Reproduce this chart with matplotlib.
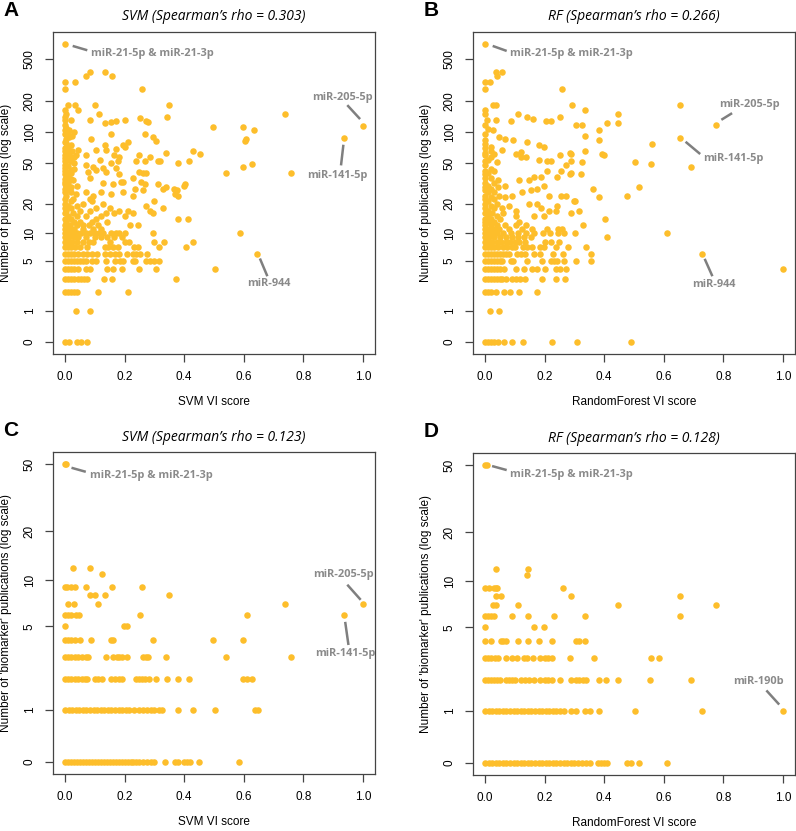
#!/usr/bin/env python
import numpy as np
import matplotlib
matplotlib.use("Agg")
from matplotlib import pyplot as plt

plt.rcParams['font.family'] = ['Liberation Sans', 'DejaVu Sans']

# (number of publications, VI scores of the miRNAs with that count)
svm_all = [
    (0, [0.0, 0.015, 0.04, 0.055, 0.075]),
    (1, [0.036, 0.083]),
    (2, [0.0, 0.01, 0.02, 0.03, 0.042, 0.111, 0.211]),
    (3, [0.0, 0.01, 0.02, 0.03, 0.045, 0.055, 0.065, 0.075, 0.131, 0.159, 0.374]),
    (4, [0.0, 0.01, 0.02, 0.032, 0.044, 0.072, 0.085, 0.14, 0.16, 0.19, 0.248, 0.304, 0.503]),
    (5, [0.0, 0.01, 0.02, 0.03, 0.04, 0.05, 0.06, 0.07, 0.09, 0.105, 0.137, 0.168, 0.185,
         0.196, 0.229, 0.235, 0.271, 0.285, 0.299, 0.317]),
    (6, [0.0, 0.01, 0.02, 0.03, 0.045, 0.06, 0.075, 0.09, 0.106, 0.134, 0.15, 0.168, 0.183,
         0.207, 0.229, 0.24, 0.252, 0.274, 0.643]),
    (7, [0.0, 0.01, 0.02, 0.035, 0.05, 0.073, 0.134, 0.145, 0.16, 0.179, 0.233, 0.246, 0.316, 0.406]),
    (8, [0.0, 0.012, 0.025, 0.04, 0.06, 0.08, 0.095, 0.15, 0.2, 0.215, 0.3, 0.332, 0.428]),
    (9, [0.0, 0.015, 0.03, 0.045, 0.07, 0.1, 0.12, 0.14, 0.165, 0.19]),
    (10, [0.0, 0.01, 0.025, 0.04, 0.055, 0.07, 0.085, 0.1, 0.115, 0.128, 0.155, 0.17, 0.183,
          0.2, 0.296, 0.587]),
    (11, [0.0, 0.015, 0.03, 0.06, 0.094, 0.12]),
    (12, [0.0, 0.016, 0.04, 0.06, 0.08, 0.11, 0.217, 0.245]),
    (13, [0.005, 0.03, 0.05, 0.09, 0.14]),
    (14, [0.0, 0.02, 0.105, 0.379, 0.413]),
    (15, [0.01, 0.04, 0.072, 0.12, 0.2]),
    (16, [0.0, 0.027, 0.138, 0.166, 0.228, 0.296]),
    (17, [0.005, 0.05, 0.083, 0.183, 0.211, 0.284]),
    (18, [0.0, 0.02, 0.105, 0.15, 0.329]),
    (19, [0.01, 0.04, 0.273]),
    (20, [0.0, 0.06, 0.128]),
    (21, [0.02, 0.09, 0.3]),
    (22, [0.0, 0.027, 0.083]),
    (24, [0.005, 0.094, 0.228, 0.379]),
    (25, [0.038, 0.155, 0.368]),
    (26, [0.0, 0.02, 0.072, 0.122, 0.195]),
    (27, [0.01, 0.262, 0.375]),
    (28, [0.0, 0.234, 0.33, 0.365]),
    (29, [0.02, 0.34]),
    (30, [0.005, 0.04, 0.398]),
    (31, [0.0, 0.161, 0.267, 0.312, 0.404]),
    (32, [0.01, 0.128]),
    (33, [0.0, 0.189, 0.195, 0.256]),
    (34, [0.015, 0.027]),
    (35, [0.0, 0.02]),
    (36, [0.005, 0.083, 0.228]),
    (38, [0.01]),
    (39, [0.0, 0.183]),
    (40, [0.02, 0.262, 0.273, 0.539, 0.758]),
    (41, [0.005, 0.077, 0.138, 0.25]),
    (42, [0.0]),
    (43, [0.02, 0.105]),
    (44, [0.03]),
    (45, [0.0, 0.128, 0.172]),
    (46, [0.094, 0.598]),
    (47, [0.01]),
    (48, [0.0, 0.072]),
    (49, [0.626]),
    (50, [0.03, 0.155, 0.378]),
    (52, [0.0, 0.178, 0.239, 0.267, 0.312, 0.318, 0.416]),
    (53, [0.02]),
    (54, [0.01, 0.116]),
    (56, [0.0]),
    (57, [0.02, 0.183, 0.284]),
    (58, [0.03]),
    (60, [0.0, 0.036, 0.072, 0.166, 0.25]),
    (62, [0.005, 0.453]),
    (63, [0.015, 0.338]),
    (65, [0.0, 0.025]),
    (66, [0.43]),
    (67, [0.01, 0.044, 0.105, 0.138]),
    (69, [0.172]),
    (70, [0.0]),
    (72, [0.01, 0.2]),
    (75, [0.02, 0.133, 0.195]),
    (78, [0.005]),
    (80, [0.0, 0.211]),
    (82, [0.304, 0.605]),
    (85, [0.005, 0.088, 0.609]),
    (87, [0.936]),
    (90, [0.015, 0.295]),
    (92, [0.025]),
    (95, [0.0, 0.155, 0.268]),
    (98, [0.01]),
    (100, [0.03]),
    (104, [0.635]),
    (105, [0.0, 0.015]),
    (110, [0.005]),
    (113, [0.498, 0.598]),
    (115, [1.0]),
    (118, [0.0]),
    (122, [0.133]),
    (124, [0.155]),
    (125, [0.277]),
    (127, [0.172, 0.273]),
    (131, [0.0, 0.02, 0.083, 0.203]),
    (136, [0.253]),
    (140, [0.0, 0.343]),
    (148, [0.005, 0.739]),
    (150, [0.113]),
    (164, [0.0, 0.044]),
    (182, [0.01, 0.034, 0.1, 0.349]),
    (260, [0.0, 0.26]),
    (301, [0.0, 0.034]),
    (346, [0.072, 0.157]),
    (380, [0.085, 0.133]),
    (699, [0.0]),
]

rf_all = [
    (0, [0.0, 0.01, 0.02, 0.03, 0.045, 0.063, 0.091, 0.129, 0.224, 0.308, 0.49]),
    (1, [0.017, 0.046]),
    (2, [0.0, 0.01, 0.02, 0.036, 0.063, 0.085, 0.115, 0.175]),
    (3, [0.0, 0.01, 0.02, 0.03, 0.04, 0.05, 0.058, 0.072, 0.091, 0.105, 0.118, 0.133, 0.19,
         0.237, 0.268]),
    (4, [0.0, 0.01, 0.02, 0.03, 0.04, 0.05, 0.065, 0.103, 0.131, 0.157, 0.176, 0.2, 0.24,
         0.252, 0.273, 1.0]),
    (5, [0.0, 0.01, 0.02, 0.03, 0.04, 0.05, 0.058, 0.086, 0.095, 0.14, 0.192, 0.22, 0.232,
         0.243, 0.265, 0.305, 0.355]),
    (6, [0.0, 0.01, 0.02, 0.03, 0.04, 0.05, 0.06, 0.07, 0.08, 0.108, 0.122, 0.136, 0.164,
         0.186, 0.229, 0.261, 0.355, 0.729]),
    (7, [0.0, 0.01, 0.02, 0.03, 0.045, 0.06, 0.075, 0.09, 0.1, 0.128, 0.14, 0.157, 0.186,
         0.197, 0.239, 0.28, 0.338]),
    (8, [0.0, 0.012, 0.025, 0.04, 0.055, 0.07, 0.085, 0.1, 0.115, 0.134, 0.2, 0.22, 0.25]),
    (9, [0.0, 0.015, 0.03, 0.05, 0.07, 0.09, 0.11, 0.13, 0.155, 0.408]),
    (10, [0.0, 0.01, 0.025, 0.04, 0.06, 0.087, 0.11, 0.138, 0.166, 0.194, 0.217, 0.245,
          0.264, 0.303, 0.611]),
    (11, [0.0, 0.015, 0.03, 0.047, 0.081, 0.125, 0.159, 0.209, 0.246, 0.26]),
    (12, [0.0, 0.02, 0.04, 0.069, 0.103, 0.137, 0.33]),
    (13, [0.0, 0.01, 0.03, 0.114]),
    (14, [0.0, 0.02, 0.05, 0.402]),
    (15, [0.01, 0.04, 0.103, 0.165, 0.198]),
    (16, [0.0, 0.025, 0.06, 0.289]),
    (17, [0.01, 0.105, 0.215, 0.24, 0.316]),
    (18, [0.0, 0.03, 0.058, 0.187]),
    (19, [0.02, 0.081, 0.243]),
    (20, [0.0, 0.04, 0.148, 0.176]),
    (21, [0.01, 0.3, 0.301]),
    (22, [0.0, 0.03]),
    (23, [0.02, 0.069, 0.381]),
    (24, [0.0, 0.047, 0.092, 0.215, 0.256, 0.271, 0.476]),
    (26, [0.01, 0.03, 0.125]),
    (27, [0.0, 0.153]),
    (28, [0.02, 0.176, 0.362]),
    (29, [0.0, 0.045, 0.517]),
    (30, [0.01, 0.069, 0.198]),
    (32, [0.0, 0.03]),
    (34, [0.045, 0.114, 0.148]),
    (36, [0.0, 0.02]),
    (37, [0.165, 0.187, 0.243]),
    (39, [0.0, 0.287, 0.322]),
    (40, [0.01, 0.289]),
    (42, [0.0, 0.03, 0.209, 0.254]),
    (44, [0.02]),
    (46, [0.69]),
    (48, [0.0, 0.271]),
    (49, [0.557]),
    (51, [0.04, 0.326, 0.503]),
    (52, [0.0, 0.209, 0.221, 0.288]),
    (54, [0.01, 0.181]),
    (57, [0.02, 0.12]),
    (58, [0.137]),
    (60, [0.0, 0.251, 0.4]),
    (62, [0.03, 0.103, 0.289, 0.393]),
    (63, [0.0, 0.287]),
    (64, [0.12]),
    (65, [0.02, 0.337]),
    (67, [0.058]),
    (70, [0.0]),
    (72, [0.02, 0.198]),
    (75, [0.181]),
    (76, [0.559]),
    (77, [0.0]),
    (80, [0.142]),
    (84, [0.0, 0.093, 0.381]),
    (86, [0.069]),
    (87, [0.655]),
    (89, [0.047]),
    (92, [0.334]),
    (95, [0.0]),
    (105, [0.027, 0.381]),
    (108, [0.01]),
    (116, [0.307, 0.326, 0.774]),
    (117, [0.0]),
    (122, [0.408, 0.447]),
    (127, [0.088, 0.204, 0.223]),
    (131, [0.008, 0.038]),
    (133, [0.161]),
    (139, [0.142]),
    (140, [0.253]),
    (148, [0.0]),
    (150, [0.111, 0.447]),
    (164, [0.0, 0.334]),
    (181, [0.027, 0.036, 0.291, 0.655]),
    (260, [0.0, 0.26]),
    (301, [0.0, 0.016]),
    (346, [0.041]),
    (380, [0.036, 0.056]),
    (699, [0.0]),
]

svm_biomarker = [
    (0, [0.0, 0.01, 0.02, 0.03, 0.04, 0.05, 0.06, 0.07, 0.08, 0.09, 0.1, 0.11, 0.12, 0.13,
         0.14, 0.15, 0.16, 0.17, 0.18, 0.19, 0.2, 0.21, 0.22, 0.23, 0.24, 0.25, 0.262, 0.275,
         0.29, 0.3, 0.337, 0.37, 0.38, 0.4, 0.41, 0.418, 0.45, 0.585]),
    (1, [0.0, 0.012, 0.024, 0.036, 0.048, 0.06, 0.072, 0.084, 0.096, 0.108, 0.12, 0.132,
         0.144, 0.156, 0.168, 0.18, 0.192, 0.204, 0.216, 0.232, 0.25, 0.262, 0.275, 0.29,
         0.3, 0.315, 0.326, 0.378, 0.431, 0.503, 0.637, 0.646]),
    (2, [0.0, 0.011, 0.022, 0.034, 0.045, 0.056, 0.067, 0.075, 0.1, 0.112, 0.125, 0.153,
         0.168, 0.181, 0.193, 0.238, 0.249, 0.26, 0.27, 0.282, 0.304, 0.343, 0.378, 0.416,
         0.598, 0.61, 0.626]),
    (3, [0.0, 0.011, 0.019, 0.034, 0.045, 0.056, 0.07, 0.078, 0.138, 0.162, 0.173, 0.182,
         0.193, 0.209, 0.263, 0.272, 0.28, 0.338, 0.539, 0.758]),
    (4, [0.0, 0.011, 0.022, 0.034, 0.052, 0.086, 0.154, 0.162, 0.294, 0.498, 0.598]),
    (5, [0.0, 0.199, 0.207]),
    (6, [0.0, 0.011, 0.019, 0.037, 0.047, 0.252, 0.612, 0.936]),
    (7, [0.011, 0.03, 0.11, 0.738, 1.0]),
    (8, [0.084, 0.1, 0.134, 0.349]),
    (9, [0.0, 0.006, 0.019, 0.034, 0.07, 0.157, 0.26]),
    (11, [0.126]),
    (12, [0.028, 0.084]),
    (50, [0.0, 0.004]),
]

rf_biomarker = [
    (0, [0.0, 0.012, 0.024, 0.036, 0.048, 0.06, 0.072, 0.084, 0.096, 0.108, 0.12, 0.132,
         0.144, 0.156, 0.168, 0.18, 0.192, 0.204, 0.216, 0.228, 0.24, 0.252, 0.264, 0.276,
         0.288, 0.3, 0.312, 0.324, 0.338, 0.352, 0.378, 0.388, 0.398, 0.408, 0.477, 0.49,
         0.518, 0.61]),
    (1, [0.0, 0.012, 0.024, 0.036, 0.048, 0.06, 0.072, 0.084, 0.096, 0.108, 0.12, 0.132,
         0.144, 0.156, 0.168, 0.18, 0.192, 0.204, 0.216, 0.228, 0.24, 0.252, 0.264, 0.289,
         0.306, 0.336, 0.352, 0.381, 0.503, 0.728, 1.0]),
    (2, [0.0, 0.01, 0.02, 0.03, 0.04, 0.05, 0.07, 0.08, 0.09, 0.1, 0.12, 0.135, 0.147, 0.163,
         0.185, 0.2, 0.213, 0.224, 0.253, 0.289, 0.305, 0.317, 0.328, 0.339, 0.382, 0.407,
         0.446, 0.555, 0.69]),
    (3, [0.0, 0.011, 0.022, 0.034, 0.045, 0.072, 0.091, 0.108, 0.131, 0.14, 0.162, 0.186,
         0.2, 0.213, 0.224, 0.287, 0.365, 0.556, 0.584]),
    (4, [0.0, 0.02, 0.054, 0.061, 0.07, 0.11, 0.146, 0.182, 0.224, 0.306, 0.317, 0.334]),
    (5, [0.0, 0.165, 0.198]),
    (6, [0.0, 0.009, 0.02, 0.029, 0.091, 0.143, 0.23, 0.334, 0.655]),
    (7, [0.027, 0.036, 0.11, 0.447, 0.774]),
    (8, [0.036, 0.055, 0.29, 0.655]),
    (9, [0.0, 0.014, 0.029, 0.037, 0.042, 0.261]),
    (11, [0.142]),
    (12, [0.038, 0.144]),
    (50, [0.0, 0.008]),
]

pub_ticks = [0, 1, 5, 10, 20, 50, 100, 200, 500]
bio_ticks = [0, 1, 5, 10, 20, 50]
vi_ticks = [0.0, 0.2, 0.4, 0.6, 0.8, 1.0]

# label text, text anchor (x, log1p y), leader line start and end
notes_a = [("miR-21-5p & miR-21-3p", (0.086, 6.35), (0.026, 6.507), (0.075, 6.412)),
           ("miR-205-5p", (0.828, 5.38), (0.947, 5.206), (0.99, 4.9)),
           ("miR-141-5p", (0.813, 3.66), (0.934, 4.336), (0.926, 3.882)),
           ("miR-944", (0.612, 1.28), (0.654, 1.836), (0.679, 1.447))]
notes_b = [("miR-21-5p & miR-21-3p", (0.085, 6.35), (0.026, 6.507), (0.073, 6.397)),
           ("miR-205-5p", (0.784, 5.21), (0.793, 4.884), (0.829, 5.03)),
           ("miR-141-5p", (0.731, 4.04), (0.673, 4.401), (0.722, 4.132)),
           ("miR-944", (0.696, 1.26), (0.737, 1.829), (0.763, 1.447))]
notes_c = [("miR-21-5p & miR-21-3p", (0.084, 3.78), (0.022, 3.881), (0.07, 3.828)),
           ("miR-205-5p", (0.831, 2.47), (0.947, 2.339), (0.992, 2.14)),
           ("miR-141-5p", (0.839, 1.43), (0.94, 1.849), (0.951, 1.544))]
notes_d = [("miR-21-5p & miR-21-3p", (0.085, 3.80), (0.024, 3.917), (0.073, 3.864)),
           ("miR-190b", (0.834, 1.07), (0.944, 0.958), (0.987, 0.772))]

DOT = '#FDBE2B'
GREY = '#8A8A8A'
EDGE = '#444444'
W, H = 796, 831


def panel(rect, rows, yticks, title, xlabel, ylabel, letter, notes):
    l, t, r, b = rect
    ax = fig.add_axes([l / W, 1 - b / H, (r - l) / W, (b - t) / H])
    vi = np.concatenate([np.asarray(xs, float) for _, xs in rows])
    pubs = np.repeat([c for c, _ in rows], [len(xs) for _, xs in rows])
    ly = np.log1p(pubs)
    ax.scatter(vi, ly, s=22, color=DOT, linewidths=0, zorder=3)

    top = ly.max()
    ax.set_xlim(-0.04, 1.04)
    ax.set_ylim(-0.04 * top, 1.04 * top)
    ax.set_xticks(vi_ticks)
    ax.set_xticklabels(['%.1f' % v for v in vi_ticks])
    ax.set_yticks(np.log1p(yticks))
    ax.set_yticklabels([str(v) for v in yticks], rotation=90, va='center')
    ax.tick_params(length=5.5, width=0.9, color=EDGE, pad=7, labelsize=8.5)
    for s in ax.spines.values():
        s.set_color(EDGE)
        s.set_linewidth(0.9)

    hh = b - t
    ax.text(0.5, 1 + 15 / hh, title, transform=ax.transAxes, ha='center', va='center',
            fontsize=10, style='italic', family='Open Sans')
    ax.text(0.5, -48 / hh, xlabel, transform=ax.transAxes, ha='center', va='center',
            fontsize=8.5)
    ax.text(-47 / (r - l), 0.5, ylabel, transform=ax.transAxes, ha='center', va='center',
            rotation=90, fontsize=8.5)
    fig.text((l - 42) / W, 1 - (t - 21) / H, letter, ha='center', va='center',
             fontsize=15, fontweight='bold')

    for label, pos, p0, p1 in notes:
        ax.plot([p0[0], p1[0]], [p0[1], p1[1]], color='#7F7F7F', lw=1.8,
                solid_capstyle='butt', zorder=4)
        ax.text(pos[0], pos[1], label, ha='left', va='center', color=GREY,
                fontsize=7.9, fontweight='bold', family='Open Sans')
    return ax


fig = plt.figure(figsize=(W / 100, H / 100), dpi=100)
panel((53, 32, 375, 354), svm_all, pub_ticks, "SVM (Spearman\u2019s rho = 0.303)",
      "SVM VI score", "Number of publications (log scale)", "A", notes_a)
panel((473, 32, 795, 354), rf_all, pub_ticks, "RF (Spearman\u2019s rho = 0.266)",
      "RandomForest VI score", "Number of publications (log scale)", "B", notes_b)
panel((53, 452, 375, 774), svm_biomarker, bio_ticks, "SVM (Spearman\u2019s rho = 0.123)",
      "SVM VI score", "Number of 'biomarker' publications (log scale)", "C", notes_c)
panel((473, 453, 795, 775), rf_biomarker, bio_ticks, "RF (Spearman\u2019s rho = 0.128)",
      "RandomForest VI score", "Number of 'biomarker' publications (log scale)", "D", notes_d)

fig.savefig("out.png", dpi=100)
